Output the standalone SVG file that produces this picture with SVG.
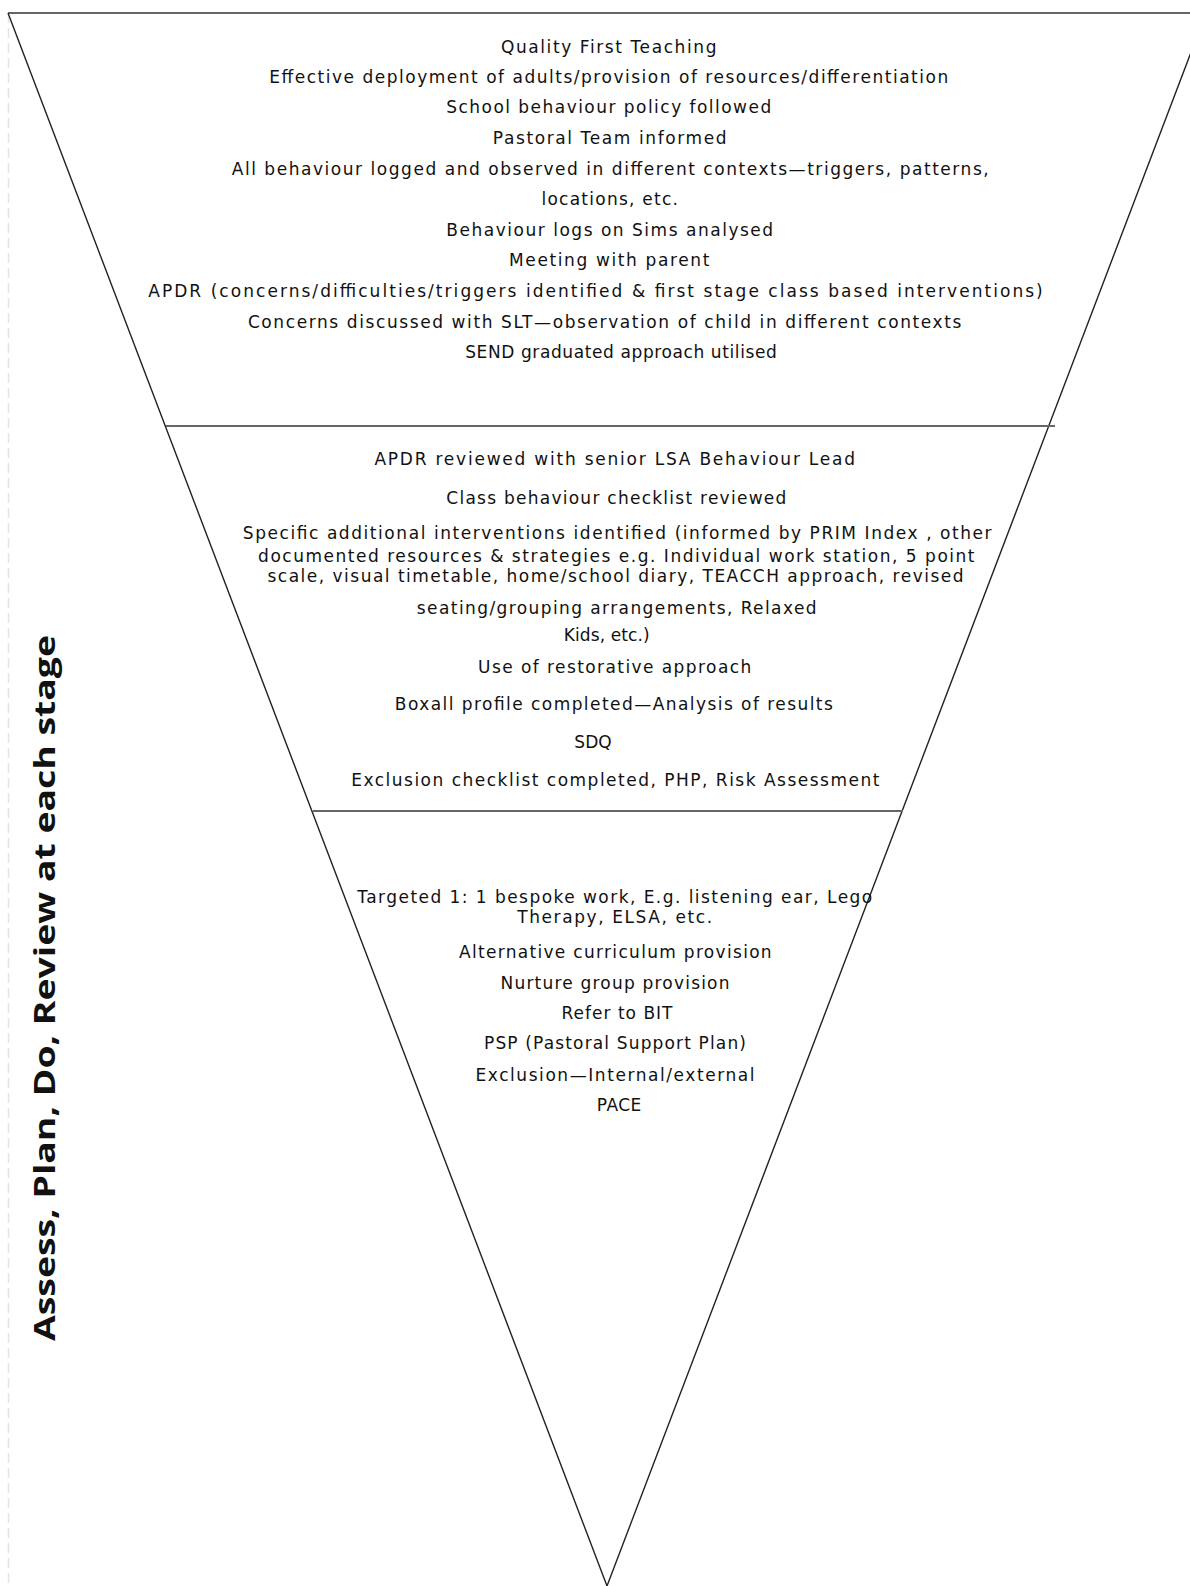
<svg xmlns="http://www.w3.org/2000/svg" width="1190" height="1586" viewBox="0 0 1190 1586">
<style>
  .t { font-family: "DejaVu Sans", "Liberation Sans", sans-serif; font-size: 17px; fill: #111; text-anchor: middle; }
  .side { font-family: "Open Sans", Lato, "Liberation Sans", sans-serif; font-weight: bold; font-size: 29px; fill: #111; text-anchor: middle; }
  .edge { stroke: #222; stroke-width: 1.4; fill: none; }
  .rule { stroke: #666; stroke-width: 2; fill: none; }
</style>
<rect width="1190" height="1586" fill="#ffffff"/>
<line x1="8.5" y1="13" x2="8.5" y2="1586" stroke="#e4e4e4" stroke-width="1.5" stroke-dasharray="10 5"/>
<g id="connectors">
  <line class="rule" x1="8" y1="13" x2="1190" y2="13" stroke="#7a7a7a"/>
  <polyline class="edge" points="8,13 607,1586 1206,13"/>
  <line class="rule" x1="166" y1="426" x2="1055" y2="426"/>
  <line class="rule" x1="313" y1="811" x2="903" y2="811"/>
</g>
<g id="side-label">
  <text class="side" transform="translate(55,988) rotate(-90)" textLength="706" lengthAdjust="spacingAndGlyphs">Assess, Plan, Do, Review at each stage</text>
</g>
<g id="stage-1">
  <text class="t" x="608.7" y="52.5" textLength="215.5">Quality First Teaching</text>
  <text class="t" x="608.7" y="83" textLength="679">Effective deployment of adults/provision of resources/differentiation</text>
  <text class="t" x="608.7" y="113.3" textLength="325">School behaviour policy followed</text>
  <text class="t" x="609.7" y="143.6" textLength="233.7">Pastoral Team informed</text>
  <text class="t" x="610.2" y="175" textLength="757">All behaviour logged and observed in different contexts—triggers, patterns,</text>
  <text class="t" x="609.7" y="205.3" textLength="136.6">locations, etc.</text>
  <text class="t" x="609.7" y="235.7" textLength="326.8">Behaviour logs on Sims analysed</text>
  <text class="t" x="609.2" y="266" textLength="200.4">Meeting with parent</text>
  <text class="t" x="595.5" y="297.4" textLength="894.5">APDR (concerns/difficulties/triggers identified &amp; first stage class based interventions)</text>
  <text class="t" x="604.6" y="327.8" textLength="713.4">Concerns discussed with SLT—observation of child in different contexts</text>
  <text class="t" x="621" y="358" textLength="311.7">SEND graduated approach utilised</text>
</g>
<g id="stage-2">
  <text class="t" x="614.7" y="465.4" textLength="480.6">APDR  reviewed with senior LSA Behaviour Lead</text>
  <text class="t" x="616.3" y="503.9" textLength="340">Class behaviour checklist reviewed</text>
  <text class="t" x="617.2" y="539.3" textLength="748.8">Specific additional interventions identified (informed by PRIM Index , other</text>
  <text class="t" x="616.3" y="561.5" textLength="716.4">documented resources &amp; strategies e.g. Individual work station, 5 point</text>
  <text class="t" x="615.5" y="581.8" textLength="696">scale, visual timetable, home/school diary, TEACCH approach, revised</text>
  <text class="t" x="616.7" y="614.2" textLength="399.7">seating/grouping arrangements, Relaxed</text>
  <text class="t" x="606.7" y="640.5" textLength="86">Kids, etc.)</text>
  <text class="t" x="614.7" y="672.8" textLength="273.2">Use of restorative approach</text>
  <text class="t" x="613.8" y="710.3" textLength="438">Boxall profile completed—Analysis of results</text>
  <text class="t" x="593" y="747.7">SDQ</text>
  <text class="t" x="615.3" y="786.2" textLength="528.2">Exclusion checklist completed, PHP, Risk Assessment</text>
</g>
<g id="stage-3">
  <text class="t" x="614.7" y="902.5" textLength="515">Targeted 1: 1 bespoke work, E.g. listening ear, Lego</text>
  <text class="t" x="614.7" y="922.8" textLength="195">Therapy, ELSA, etc.</text>
  <text class="t" x="615.3" y="958.2" textLength="312.7">Alternative curriculum provision</text>
  <text class="t" x="615" y="988.6" textLength="229">Nurture group provision</text>
  <text class="t" x="617" y="1018.9" textLength="111">Refer to BIT</text>
  <text class="t" x="615" y="1049.3" textLength="262">PSP (Pastoral Support Plan)</text>
  <text class="t" x="615" y="1080.6" textLength="279">Exclusion—Internal/external</text>
  <text class="t" x="619" y="1111" textLength="44.5">PACE</text>
</g>
</svg>
